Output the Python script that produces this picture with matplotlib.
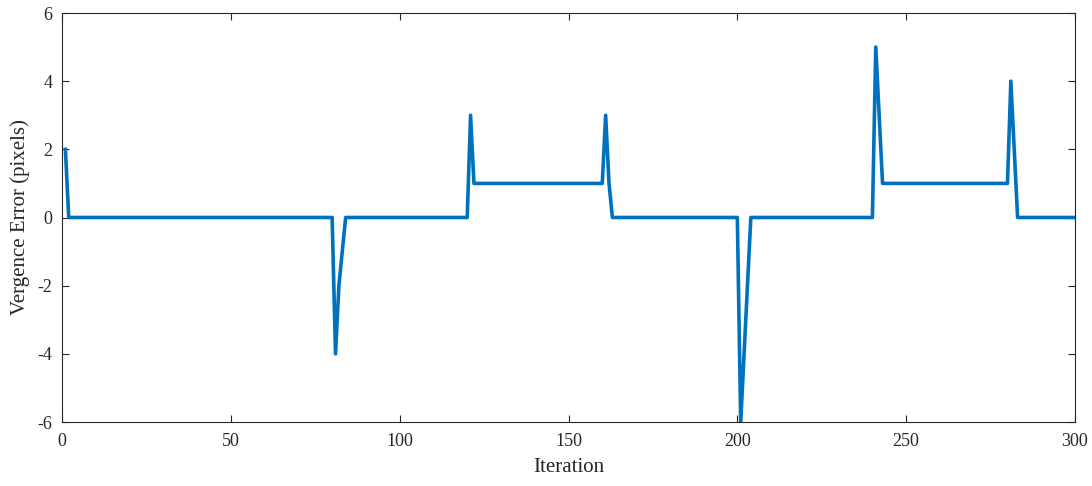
import matplotlib.pyplot as plt

# Vergence error at each change point (constant between them)
iteration = [1, 2, 80, 81, 82, 84, 120, 121, 122, 160, 161, 162, 163,
             200, 201, 202, 203, 204, 240, 241, 242, 243, 280, 281, 282, 283, 300]
error = [2, 0, 0, -4, -2, 0, 0, 3, 1, 1, 3, 1, 0,
         0, -6, -4, -2, 0, 0, 5, 3, 1, 1, 4, 2, 0, 0]

x_ticks = [0, 50, 100, 150, 200, 250, 300]
y_ticks = [-6, -4, -2, 0, 2, 4, 6]

plt.rcParams['font.family'] = ['Liberation Serif', 'DejaVu Serif']
plt.rcParams['axes.unicode_minus'] = False

fig = plt.figure(figsize=(10.92, 4.86), dpi=100)
ax = fig.add_axes([62 / 1092, 1 - 422 / 486, (1075 - 62) / 1092, (422 - 13) / 486])

ax.plot(iteration, error, color='#0072BD', linewidth=2.6)

ax.set_xlim(0, 300)
ax.set_ylim(-6, 6)
ax.set_xticks(x_ticks)
ax.set_yticks(y_ticks)
ax.tick_params(direction='in', top=True, right=True, labelsize=13,
               length=5, width=0.8, colors='#262626')
ax.tick_params(axis='x', pad=8)
ax.tick_params(axis='y', pad=7)
for s in ax.spines.values():
    s.set_color('#262626')
    s.set_linewidth(0.8)

ax.set_xlabel('Iteration', fontsize=15, color='#262626', labelpad=6)
ax.set_ylabel('Vergence Error (pixels)', fontsize=15, color='#262626', labelpad=5)

fig.savefig('out.png', dpi=100)
